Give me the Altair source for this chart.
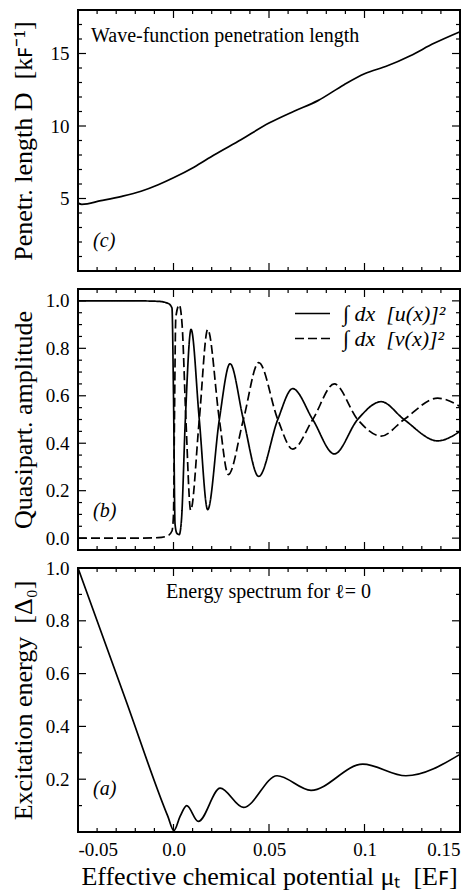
import altair as alt
import pandas as pd

# ---------------- data ----------------
# panel (c): penetration length D vs mu
mu_c = [-0.05, -0.048, -0.038, -0.027, -0.017, -0.008, 0.0, 0.0107, 0.0212, 0.0353,
        0.05, 0.0631, 0.0756, 0.0893, 0.1, 0.112, 0.124, 0.1364, 0.15]
D_c = [4.68, 4.6, 4.85, 5.15, 5.5, 5.95, 6.43, 7.16, 8.0, 9.05,
       10.2, 11.02, 11.75, 12.85, 13.6, 14.15, 14.85, 15.7, 16.5]

# panel (b): quasiparticle amplitudes
mu_u = [-0.05, -0.02, -0.008, -0.003, -0.0008, 0.0, 0.0008, 0.0018, 0.003, 0.0042,
        0.0062, 0.0092, 0.0135, 0.0179, 0.024, 0.0296, 0.0366, 0.0446, 0.0546, 0.0624,
        0.0729, 0.0842, 0.0964, 0.1087, 0.1207, 0.1383, 0.15]
u_vals = [1.0, 1.0, 0.998, 0.99, 0.97, 0.6, 0.06, 0.02, 0.015, 0.08,
          0.5, 0.88, 0.5, 0.12, 0.5, 0.735, 0.5, 0.26, 0.5, 0.63,
          0.5, 0.355, 0.5, 0.575, 0.5, 0.41, 0.45]
mu_v = [-0.05, -0.02, -0.008, -0.003, -0.0008, 0.0, 0.0005, 0.0012, 0.003, 0.0045,
        0.0065, 0.009, 0.0135, 0.0179, 0.024, 0.0287, 0.0366, 0.0446, 0.0546, 0.0624,
        0.0729, 0.0842, 0.0964, 0.1087, 0.1207, 0.1383, 0.15]
v_vals = [0.0, 0.0, 0.002, 0.01, 0.03, 0.1, 0.5, 0.93, 0.983, 0.9,
          0.5, 0.117, 0.5, 0.88, 0.5, 0.268, 0.5, 0.74, 0.5, 0.375,
          0.5, 0.65, 0.5, 0.43, 0.5, 0.59, 0.555]

# panel (a): excitation energy
mu_a = [-0.05, -0.025, -0.003, 0.0002, 0.0035, 0.0069, 0.013, 0.0244, 0.0366,
        0.0542, 0.072, 0.0991, 0.1217, 0.15]
e_vals = [1.0, 0.5, 0.06, 0.005, 0.06, 0.1, 0.04, 0.166, 0.093,
          0.213, 0.158, 0.257, 0.213, 0.294]

# ticks / labels
x_major = [-0.05, 0.0, 0.05, 0.1, 0.15]
x_labels = ["-0.05", "0.0", "0.05", "0.1", "0.15"]
x_minor = [-0.04, -0.03, -0.02, -0.01, 0.01, 0.02, 0.03, 0.04,
           0.06, 0.07, 0.08, 0.09, 0.11, 0.12, 0.13, 0.14]
yc_major = [5, 10, 15]
yc_minor = [1, 2, 3, 4, 6, 7, 8, 9, 11, 12, 13, 14, 16, 17]
yb_major = [0.0, 0.2, 0.4, 0.6, 0.8, 1.0]
yb_minor = [0.05, 0.1, 0.15, 0.25, 0.3, 0.35, 0.45, 0.5, 0.55,
            0.65, 0.7, 0.75, 0.85, 0.9, 0.95]
ya_major = [0.2, 0.4, 0.6, 0.8, 1.0]
ya_minor = [0.1, 0.3, 0.5, 0.7, 0.9]

NB = "\u00a0"
lab_u = f"∫ dx{NB}{NB}[u(x)]²"
lab_v = f"∫ dx{NB}{NB}[v(x)]²"

# ---------------- styling ----------------
FONT = "Liberation Serif"
W = 382
HC, HB, HA = 261, 261, 264
MAJ, MIN = 8, 4

xs = alt.Scale(domain=[-0.05, 0.15], nice=False, zero=False)
ys_c = alt.Scale(domain=[0, 18], nice=False, zero=False)
ys_b = alt.Scale(domain=[-0.05, 1.05], nice=False, zero=False)
ys_a = alt.Scale(domain=[0, 1.0], nice=False, zero=False)

parts = []
for i in range(len(x_major) - 1):
    mid = (x_major[i] + x_major[i + 1]) / 2
    parts.append(f"datum.value < {mid} ? '{x_labels[i]}' : ")
x_label_expr = "".join(parts) + f"'{x_labels[-1]}'"


def yaxis(values, fmt, title):
    return alt.Axis(values=values, format=fmt, title=title, ticks=False, domain=False,
                    grid=False, labelFont=FONT, labelFontSize=19, labelPadding=9,
                    labelColor="black", titleFont=FONT, titleFontSize=26,
                    titleFontWeight="normal", titleColor="black", titleX=-42)


XAXIS_A = alt.Axis(values=x_major, labelExpr=x_label_expr, ticks=False, domain=False,
                   grid=False, labelFont=FONT, labelFontSize=19, labelPadding=8,
                   labelColor="black", titleFont=FONT, titleFontSize=26,
                   titleFontWeight="normal", titleColor="black", titlePadding=4,
                   title=f"Effective chemical potential μₜ{NB}{NB}[Eꜰ]")


def make_panel(H, ys, yax, xax, major, minor, lines, texts):
    layers = list(lines)
    # x ticks (bottom & top, pointing inward)
    for vals, L in [(x_major, MAJ), (x_minor, MIN)]:
        df = pd.DataFrame({"t": vals})
        base = alt.Chart(df).mark_rule(color="black", strokeWidth=1.2)
        layers.append(base.encode(x=alt.X("t:Q", scale=xs, axis=xax),
                                  y=alt.value(H), y2=alt.value(H - L)))
        layers.append(base.encode(x=alt.X("t:Q", scale=xs, axis=xax),
                                  y=alt.value(0), y2=alt.value(L)))
    # y ticks (left & right, pointing inward)
    for vals, L in [(major, MAJ), (minor, MIN)]:
        df = pd.DataFrame({"t": vals})
        base = alt.Chart(df).mark_rule(color="black", strokeWidth=1.2)
        layers.append(base.encode(y=alt.Y("t:Q", scale=ys, axis=yax),
                                  x=alt.value(0), x2=alt.value(L)))
        layers.append(base.encode(y=alt.Y("t:Q", scale=ys, axis=yax),
                                  x=alt.value(W), x2=alt.value(W - L)))
    for (x, y, t, italic) in texts:
        df = pd.DataFrame({"x": [x], "y": [y], "t": [t]})
        layers.append(alt.Chart(df).mark_text(
            align="left", baseline="alphabetic", font=FONT, fontSize=20, color="black",
            fontStyle="italic" if italic else "normal").encode(
            x=alt.X("x:Q", scale=xs, axis=xax), y=alt.Y("y:Q", scale=ys, axis=yax), text="t:N"))
    return alt.layer(*layers).properties(width=W, height=H)


# ---------------- panel (c) ----------------
yax_c = yaxis(yc_major, "d", f"Penetr. length D{NB}{NB}[kꜰ⁻¹]")
df_c = pd.DataFrame({"mu": mu_c, "D": D_c})
line_c = alt.Chart(df_c).mark_line(color="black", strokeWidth=1.7, interpolate="monotone").encode(
    x=alt.X("mu:Q", scale=xs, axis=None),
    y=alt.Y("D:Q", scale=ys_c, axis=yax_c),
)
panel_c = make_panel(HC, ys_c, yax_c, None, yc_major, yc_minor, [line_c], [
    (-0.0432, 15.8, "Wave-function penetration length", False),
    (-0.0421, 1.64, "(c)", True),
])

# ---------------- panel (b) ----------------
yax_b = yaxis(yb_major, ".1f", "Quasipart. amplitude")
df_b = pd.concat([
    pd.DataFrame({"mu": mu_u, "val": u_vals, "s": lab_u}),
    pd.DataFrame({"mu": mu_v, "val": v_vals, "s": lab_v}),
])
line_b = alt.Chart(df_b).mark_line(color="black", strokeWidth=1.7, interpolate="monotone").encode(
    x=alt.X("mu:Q", scale=xs, axis=None),
    y=alt.Y("val:Q", scale=ys_b, axis=yax_b),
    strokeDash=alt.StrokeDash("s:N", scale=alt.Scale(domain=[lab_u, lab_v], range=[[1, 0], [9, 4]]),
                              legend=alt.Legend(orient="none", legendX=221, legendY=11, title=None,
                                                symbolType="M-1.4,0H1.4", symbolSize=625,
                                                symbolStrokeWidth=1.6, symbolStrokeColor="black",
                                                symbolFillColor="transparent",
                                                labelFont=FONT, labelFontSize=22,
                                                labelFontStyle="italic", labelColor="black",
                                                labelOffset=17, rowPadding=0, padding=0,
                                                labelLimit=300)),
    detail="s:N",
)
panel_b = make_panel(HB, ys_b, yax_b, None, yb_major, yb_minor, [line_b], [
    (-0.0421, 0.09, "(b)", True),
])

# ---------------- panel (a) ----------------
yax_a = yaxis(ya_major, ".1f", f"Excitation energy{NB}{NB}[Δ₀]")
df_a = pd.DataFrame({"mu": mu_a, "E": e_vals})
line_a = alt.Chart(df_a).mark_line(color="black", strokeWidth=1.7, interpolate="monotone").encode(
    x=alt.X("mu:Q", scale=xs, axis=XAXIS_A),
    y=alt.Y("E:Q", scale=ys_a, axis=yax_a),
)
panel_a = make_panel(HA, ys_a, yax_a, XAXIS_A, ya_major, ya_minor, [line_a], [
    (-0.0039, 0.886, "Energy spectrum for ℓ= 0", False),
    (-0.0421, 0.139, "(a)", True),
])

chart = alt.vconcat(panel_c, panel_b, panel_a, spacing=18, bounds="flush").resolve_legend(
    strokeDash="independent"
).properties(
    padding=0, background="white"
).configure_view(stroke="black", strokeWidth=2)

chart.save("out.html", embed_options={"renderer": "svg", "actions": False})
